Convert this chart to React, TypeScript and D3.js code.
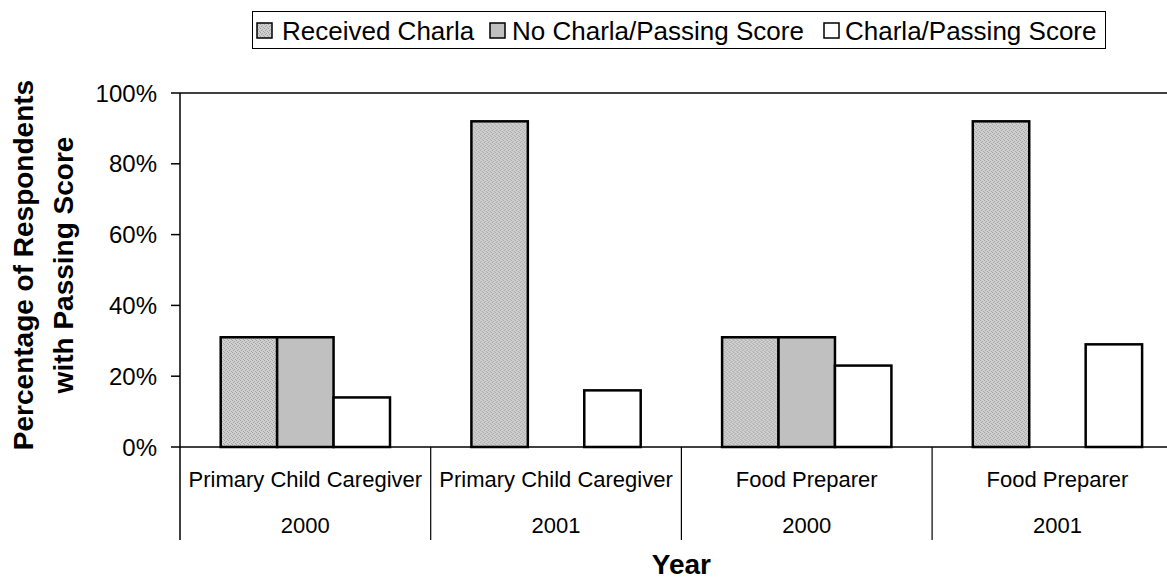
import React from "react";
import * as d3 from "d3";

const categories = ["Primary Child Caregiver", "Primary Child Caregiver", "Food Preparer", "Food Preparer"];
const years = ["2000", "2001", "2000", "2001"];
const seriesNames = ["Received Charla", "No Charla/Passing Score", "Charla/Passing Score"];
const receivedCharla = [0.31, 0.92, 0.31, 0.92];
const noCharlaPassing: (number | null)[] = [0.31, null, 0.31, null];
const charlaPassing = [0.14, 0.16, 0.23, 0.29];
const yTicks = [0, 0.2, 0.4, 0.6, 0.8, 1.0];

const W = 1167;
const H = 581;
const FONT = "'Liberation Sans', Arial, sans-serif";

export default function App() {
  const plotLeft = 180;
  const plotTop = 93;
  const plotBottom = 447;
  const step = 250.7;
  const plotRight = plotLeft + step * categories.length;

  const idx = categories.map((_, i) => i);
  const x0 = d3.scaleBand<number>().domain(idx).range([plotLeft, plotRight]).padding(0);
  const x1 = d3.scaleBand<number>().domain([0, 1, 2]).range([40.7, step - 40.7]).padding(0);
  const y = d3.scaleLinear().domain([0, 1]).range([plotBottom, plotTop]);

  const series = [receivedCharla, noCharlaPassing, charlaPassing];
  const fills = ["url(#dotpat)", "#c0c0c0", "#ffffff"];

  const legendItems = [
    { swatch: 257, text: 282 },
    { swatch: 490, text: 512 },
    { swatch: 824, text: 845 },
  ];

  return (
    <div style={{ position: "absolute", left: 0, top: 0 }}>
      <svg width={W} height={H} style={{ display: "block", background: "#fff" }}>
        <defs>
          <pattern id="dotpat" patternUnits="userSpaceOnUse" width={4} height={4}>
            <rect width={4} height={4} fill="#cfcfcf" />
            <rect x={0} y={0} width={1} height={1} fill="#a0a0a0" />
            <rect x={2} y={1} width={1} height={1} fill="#a8a8a8" />
            <rect x={1} y={2} width={1} height={1} fill="#a0a0a0" />
            <rect x={3} y={3} width={1} height={1} fill="#a8a8a8" />
          </pattern>
        </defs>

        {/* Legend */}
        <rect x={252.5} y={11.5} width={853} height={37} fill="#fff" stroke="#000" strokeWidth={1} />
        {seriesNames.map((name, i) => (
          <g key={name}>
            <rect
              x={legendItems[i].swatch}
              y={23}
              width={15}
              height={15}
              fill={fills[i]}
              stroke="#000"
              strokeWidth={1.5}
            />
            <text x={legendItems[i].text} y={39.5} fontFamily={FONT} fontSize={26} fill="#000">
              {name}
            </text>
          </g>
        ))}

        {/* Plot top border */}
        <line x1={plotLeft} x2={W} y1={plotTop} y2={plotTop} stroke="#000" strokeWidth={1.5} />

        {/* Bars */}
        {idx.map((ci) => (
          <g key={ci} transform={`translate(${x0(ci)},0)`}>
            {series.map((s, si) => {
              const v = s[ci];
              if (v == null) return null;
              return (
                <rect
                  key={si}
                  x={x1(si)}
                  y={y(v)}
                  width={x1.bandwidth()}
                  height={y(0) - y(v)}
                  fill={fills[si]}
                  stroke="#000"
                  strokeWidth={2.5}
                />
              );
            })}
          </g>
        ))}

        {/* Y axis */}
        <line x1={plotLeft} x2={plotLeft} y1={plotTop} y2={540} stroke="#000" strokeWidth={1.5} />
        {yTicks.map((t) => (
          <g key={t}>
            <line x1={171} x2={plotLeft} y1={y(t)} y2={y(t)} stroke="#000" strokeWidth={1.5} />
            <text
              x={157}
              y={y(t) + 8.6}
              textAnchor="end"
              fontFamily={FONT}
              fontSize={24}
              fill="#000"
            >
              {d3.format(".0%")(t)}
            </text>
          </g>
        ))}

        {/* X axis baseline */}
        <line x1={plotLeft} x2={W} y1={plotBottom} y2={plotBottom} stroke="#000" strokeWidth={1.5} />
        {idx.map((ci) => (
          <line
            key={"sep" + ci}
            x1={(x0(ci) as number) + step}
            x2={(x0(ci) as number) + step}
            y1={plotBottom}
            y2={540}
            stroke="#000"
            strokeWidth={1.2}
          />
        ))}
        {idx.map((ci) => {
          const cx = (x0(ci) as number) + step / 2;
          return (
            <g key={"lab" + ci}>
              <text x={cx} y={487} textAnchor="middle" fontFamily={FONT} fontSize={22} fill="#000">
                {categories[ci]}
              </text>
              <text x={cx} y={533} textAnchor="middle" fontFamily={FONT} fontSize={22} fill="#000">
                {years[ci]}
              </text>
            </g>
          );
        })}

        {/* Axis titles */}
        <text
          x={(plotLeft + plotRight) / 2}
          y={574}
          textAnchor="middle"
          fontFamily={FONT}
          fontSize={28}
          fontWeight="bold"
          fill="#000"
        >
          Year
        </text>
        <g transform={`translate(0,265) rotate(-90)`}>
          <text x={0} y={33} textAnchor="middle" fontFamily={FONT} fontSize={28} fontWeight="bold" fill="#000">
            Percentage of Respondents
          </text>
          <text x={0} y={73} textAnchor="middle" fontFamily={FONT} fontSize={28} fontWeight="bold" fill="#000">
            with Passing Score
          </text>
        </g>
      </svg>
    </div>
  );
}
